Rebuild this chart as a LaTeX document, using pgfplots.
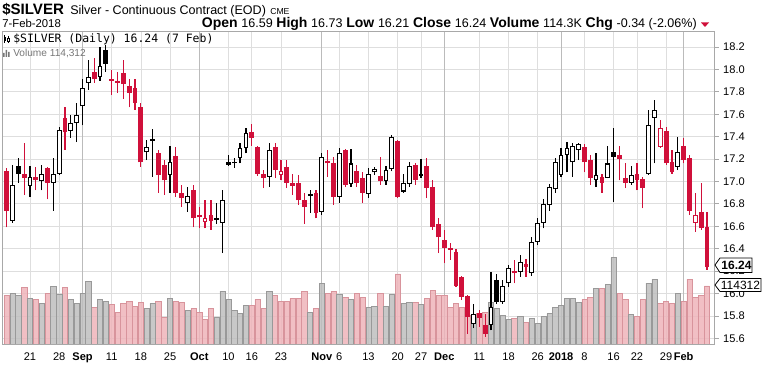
\documentclass[border=0pt]{standalone}
\usepackage{pgfplots}
\pgfplotsset{compat=1.18}
\usepackage{pgfplotstable}
\usepackage{fontspec}
\setmainfont{Liberation Sans}
\newfontfamily\monofont{DejaVu Sans Mono}
\definecolor{redc}{HTML}{D0103A}
\definecolor{pinkf}{HTML}{EEB4BA}
\definecolor{pinke}{HTML}{D8949C}
\definecolor{grayf}{HTML}{BEBEBE}
\definecolor{graye}{HTML}{999999}
\definecolor{gridc}{HTML}{DEDEDE}
\definecolor{mgridc}{HTML}{BBBBBB}
\definecolor{framec}{HTML}{A8A8A8}
\definecolor{voltext}{HTML}{777777}
\pgfplotsset{
  common/.style={at={(2.025pt,-258pt)}, anchor=south west, scale only axis,
    width=533.85pt, height=234.2pt, xmin=-0.677, xmax=121.29},
  onlyred/.style={restrict expr to domain={\thisrow{red}}{0.5:1.5}},
  onlyblack/.style={restrict expr to domain={\thisrow{red}}{-0.5:0.5}},
  onlyhollow/.style={restrict expr to domain={\thisrow{hol}}{0.5:1.5}},
  bars/.style 2 args={draw=none, mark=none, #1, error bars/.cd, y dir=plus, y explicit, error mark=none, error bar style={draw=#2}},
}
% red: 1 = red candle (close below previous close), 0 = black; hol: 1 = hollow body (close above open)
\pgfplotstableread{
i o h l c red hol v
0 17.09 17.12 16.59 16.74 1 0 96
1 16.65 17.15 16.63 16.97 0 1 100
2 17.14 17.21 16.99 17.07 0 0 96
3 17.07 17.34 16.88 17.03 1 0 112
4 16.96 17.14 16.86 17.04 0 1 90
5 17.04 17.13 16.92 17.01 1 0 88
6 17.00 17.15 16.92 17.07 0 1 80
7 17.12 17.13 16.84 16.99 1 0 100
8 16.99 17.21 16.74 17.07 0 1 114
9 17.07 17.49 17.06 17.46 0 1 98
10 17.57 17.66 17.28 17.44 1 0 112
11 17.45 17.59 17.39 17.52 0 1 88
12 17.52 17.70 17.35 17.59 0 1 80
13 17.67 17.91 17.50 17.83 0 1 100
14 17.88 18.08 17.82 17.93 0 1 124
15 17.98 18.10 17.88 17.91 1 0 72
16 17.93 18.20 17.90 18.03 0 1 88
17 18.17 18.22 17.98 18.05 0 0 84
18 17.91 17.99 17.77 17.90 1 0 78
19 17.90 17.98 17.79 17.88 1 0 62
20 17.97 18.08 17.74 17.87 1 0 80
21 17.85 17.91 17.66 17.79 1 0 84
22 17.83 17.91 17.64 17.70 1 0 74
23 17.66 17.70 17.13 17.17 1 0 82
24 17.26 17.37 17.19 17.31 0 1 70
25 17.38 17.47 17.04 17.36 0 0 80
26 17.25 17.28 16.90 17.06 1 0 84
27 17.15 17.19 16.88 17.01 1 0 52
28 17.06 17.32 16.90 17.17 0 1 90
29 17.23 17.31 16.86 16.90 1 0 84
30 16.90 16.97 16.77 16.85 1 0 82
31 16.81 16.95 16.73 16.87 0 1 66
32 16.92 16.97 16.59 16.67 1 0 70
33 16.70 16.77 16.58 16.68 1 0 62
34 16.64 16.83 16.58 16.67 1 1 48
35 16.70 16.83 16.57 16.65 1 0 70
36 16.67 16.81 16.62 16.66 0 0 52
37 16.63 16.92 16.36 16.83 0 1 104
38 17.17 17.24 17.14 17.15 0 0 88
39 17.17 17.21 17.12 17.16 0 0 66
40 17.21 17.34 17.16 17.30 0 1 60
41 17.30 17.48 17.25 17.43 0 1 76
42 17.44 17.51 17.32 17.39 1 0 76
43 17.31 17.32 17.05 17.07 1 0 88
44 17.07 17.10 16.94 17.03 1 0 70
45 17.04 17.34 16.95 17.28 0 1 104
46 17.31 17.34 17.03 17.10 1 0 96
47 17.06 17.19 17.01 17.09 1 1 84
48 17.13 17.19 16.94 16.99 1 0 84
49 16.99 17.07 16.88 16.96 1 0 90
50 16.99 17.06 16.79 16.83 1 0 90
51 16.83 16.90 16.62 16.77 1 0 104
52 16.89 16.92 16.72 16.87 0 0 62
53 16.90 16.92 16.67 16.72 1 0 70
54 16.73 17.25 16.70 17.22 0 1 120
55 17.18 17.28 17.04 17.16 1 0 100
56 17.16 17.22 16.79 16.86 1 0 104
57 16.86 17.30 16.81 17.25 0 1 98
58 17.28 17.29 16.95 16.97 1 0 92
59 16.98 17.29 16.95 17.16 0 1 88
60 17.09 17.15 16.95 16.99 1 0 100
61 17.03 17.08 16.81 16.90 1 0 92
62 16.89 17.12 16.85 17.07 0 1 72
63 17.08 17.13 17.06 17.11 0 1 74
64 17.05 17.22 16.97 17.00 1 0 100
65 17.00 17.14 16.97 17.10 0 1 74
66 17.11 17.41 17.09 17.40 0 1 98
67 17.36 17.37 16.85 16.86 1 0 138
68 16.91 17.07 16.90 16.99 0 1 80
69 16.98 17.17 16.95 17.14 0 1 82
70 17.15 17.16 16.97 17.01 1 0 82
71 17.06 17.20 17.03 17.05 0 0 78
72 17.14 17.21 16.85 16.94 1 0 90
73 16.95 17.01 16.57 16.59 1 0 106
74 16.62 16.67 16.36 16.50 1 0 96
75 16.48 16.57 16.27 16.41 1 0 96
76 16.40 16.45 16.30 16.39 1 0 72
77 16.37 16.40 16.06 16.07 1 0 80
78 16.15 16.16 15.94 15.97 1 0 72
79 15.98 15.99 15.64 15.79 1 0 56
80 15.73 15.91 15.69 15.82 0 1 52
81 15.83 15.85 15.70 15.78 1 0 60
82 15.72 15.82 15.61 15.64 1 0 62
83 15.72 16.19 15.67 15.88 0 1 82
84 16.12 16.17 15.91 15.92 0 0 70
85 15.92 16.12 15.91 16.07 0 1 56
86 16.09 16.25 16.06 16.23 0 1 48
87 16.20 16.30 16.09 16.18 1 0 50
88 16.19 16.34 16.15 16.28 0 1 54
89 16.26 16.31 16.15 16.24 1 0 42
90 16.18 16.50 16.16 16.46 0 1 50
91 16.46 16.67 16.43 16.63 0 1 40
92 16.63 16.84 16.58 16.80 0 1 54
93 16.79 16.98 16.74 16.95 0 1 60
94 16.93 17.21 16.90 17.17 0 1 72
95 17.06 17.30 17.04 17.24 0 1 76
96 17.24 17.35 17.08 17.30 0 1 90
97 17.17 17.34 17.04 17.32 0 1 90
98 17.28 17.34 17.19 17.33 0 1 82
99 17.31 17.33 17.08 17.17 1 0 88
100 17.19 17.24 16.97 17.03 1 0 92
101 17.01 17.25 16.95 17.06 0 1 110
102 17.04 17.07 16.90 16.99 1 0 110
103 17.03 17.32 17.03 17.16 0 1 118
104 17.26 17.48 16.82 17.22 0 0 170
105 17.24 17.32 17.01 17.20 1 0 100
106 17.03 17.16 16.94 16.99 1 0 88
107 16.99 17.14 16.97 17.06 0 1 58
108 17.07 17.16 16.92 17.01 1 0 54
109 17.02 17.04 16.76 16.94 1 0 88
110 17.07 17.64 17.06 17.50 0 1 120
111 17.57 17.73 17.16 17.64 0 1 128
112 17.31 17.55 17.30 17.48 1 1 80
113 17.45 17.49 17.15 17.16 1 0 84
114 17.17 17.28 17.07 17.08 1 0 80
115 17.13 17.40 17.10 17.26 0 1 100
116 17.32 17.39 17.16 17.19 1 0 84
117 17.21 17.24 16.70 16.74 1 0 128
118 16.63 16.90 16.55 16.70 1 1 92
119 16.73 16.99 16.57 16.58 1 0 96
120 16.59 16.73 16.21 16.24 1 0 114.312
}\candles
\newcommand\hb[1]{{\fontsize{10.5}{12}\selectfont\bfseries #1}}
\newcommand\hv[1]{{\fontsize{9.4}{11}\selectfont #1}}
\begin{document}
\begin{tikzpicture}
\begin{scope}[x=0.75pt,y=-0.75pt]
\useasboundingbox (0,0) rectangle (768,360);
\end{scope}
% price axis: frame, grid, labels
\begin{axis}[common, ymin=15.549, ymax=18.336,
  axis line style={framec},
  ytick={15.6,15.8,16.0,16.2,16.4,16.6,16.8,17.0,17.2,17.4,17.6,17.8,18.0,18.2},
  yticklabels={15.6,15.8,16.0,16.2,16.4,16.6,16.8,17.0,17.2,17.4,17.6,17.8,18.0,18.2},
  ytick pos=right, yticklabel pos=right, tick align=outside, major tick length=3pt,
  ytick style={framec, line width=0.5pt},
  xtick={4,9,13,18,23,28,33,38,42,47,54,57,62,67,71,75,81,86,91,95,99,104,108,113,116},
  xticklabels={21,28,\textbf{Sep},11,18,25,\textbf{Oct},10,16,23,\textbf{Nov},6,13,20,27,\textbf{Dec},11,18,26,\textbf{2018},8,16,22,29,\textbf{Feb}},
  xtick style={draw=none},
  grid=major, major grid style={gridc, line width=0.5pt},
  extra x ticks={13,33,54,75,95,116}, extra x tick labels={,,,,,},
  extra x tick style={major grid style={mgridc, line width=0.6pt}, major tick length=0pt},
  yticklabel style={font=\fontsize{8.3}{9}\selectfont},
  xticklabel style={font=\fontsize{8.3}{9}\selectfont},
]
\end{axis}
% volume
\begin{axis}[common, ymin=0, ymax=615.5, hide axis]
\addplot[ybar, bar width=0.9, bar shift=0pt, fill=pinkf, draw=pinke, line width=0.4pt, fill opacity=0.85, onlyred] table[x=i,y=v]{\candles};
\addplot[ybar, bar width=0.9, bar shift=0pt, fill=grayf, draw=graye, line width=0.4pt, fill opacity=0.85, onlyblack] table[x=i,y=v]{\candles};
\end{axis}
% candles
\begin{axis}[common, ymin=15.549, ymax=18.336, hide axis]
\addplot[bars={onlyred}{redc}, error bar style={line width=0.9pt}]
  table[x=i, y=l, y error plus expr=\thisrow{h}-\thisrow{l}]{\candles};
\addplot[bars={onlyblack}{black}, error bar style={line width=0.9pt}]
  table[x=i, y=l, y error plus expr=\thisrow{h}-\thisrow{l}]{\candles};
\addplot[bars={onlyred}{redc}, error bar style={line width=3.6pt}]
  table[x=i, y expr={min(\thisrow{o},\thisrow{c})}, y error plus expr={max(abs(\thisrow{c}-\thisrow{o}),0.012)}]{\candles};
\addplot[bars={onlyblack}{black}, error bar style={line width=3.6pt}]
  table[x=i, y expr={min(\thisrow{o},\thisrow{c})}, y error plus expr={max(abs(\thisrow{c}-\thisrow{o}),0.012)}]{\candles};
\addplot[bars={onlyhollow}{white}, error bar style={line width=2.1pt}]
  table[x=i, y expr={min(\thisrow{o},\thisrow{c})+0.009}, y error plus expr={max(abs(\thisrow{c}-\thisrow{o})-0.018,0)}]{\candles};
\end{axis}
\begin{scope}[x=0.75pt,y=-0.75pt]
\node[anchor=base west, inner sep=0, font=\fontsize{11.3}{13}\selectfont\bfseries] at (2,15) {\$SILVER};
\node[anchor=base west, inner sep=0, font=\fontsize{9.4}{11}\selectfont] at (70,15) {Silver - Continuous Contract (EOD)};
\node[anchor=base west, inner sep=0, font=\fontsize{6.5}{8}\selectfont] at (270,15) {CME};
\node[anchor=base west, inner sep=0, font=\fontsize{8.5}{10}\selectfont] at (2,27.5) {7-Feb-2018};
\node[anchor=base east, inner sep=0] at (697,27.5) {\hb{Open} \hv{16.59} \hb{High} \hv{16.73} \hb{Low} \hv{16.21} \hb{Close} \hv{16.24} \hb{Volume} \hv{114.3K} \hb{Chg} \hv{-0.34 (-2.06\%)}};
\fill[redc] (701,22.5) -- (709,22.5) -- (705,27) -- cycle;
% legend
\draw[black, line width=0.5pt] (4.5,35) -- (4.5,43) (8.5,36) -- (8.5,43);
\fill[black] (3.5,37) rectangle (5.5,41);
\draw[black, line width=0.5pt, fill=white] (7.5,38) rectangle (9.5,41.5);
\node[anchor=base west, inner sep=0, font=\monofont\fontsize{8.6}{10}\selectfont] at (13,43) {\$SILVER (Daily) 16.24 (7 Feb)};
\fill[voltext] (3,57) rectangle (4.5,53) (5.5,57) rectangle (7,50) (8,57) rectangle (9.5,52);
\node[anchor=base west, inner sep=0, font=\fontsize{7.6}{9}\selectfont, text=voltext] at (13,57) {Volume 114,312};
% last value boxes
\draw[black, line width=0.6pt, fill=white] (715,265) -- (720,258) -- (752,258) -- (752,272.5) -- (720,272.5) -- cycle;
\node[inner sep=0, font=\fontsize{9}{10}\selectfont\bfseries] at (736.5,265) {16.24};
\draw[black, line width=0.6pt, fill=white] (715,285) -- (720,278.5) -- (761,278.5) -- (761,291.5) -- (720,291.5) -- cycle;
\node[inner sep=0, font=\fontsize{9}{10}\selectfont] at (740.5,285) {114312};
\end{scope}
\end{tikzpicture}
\end{document}
